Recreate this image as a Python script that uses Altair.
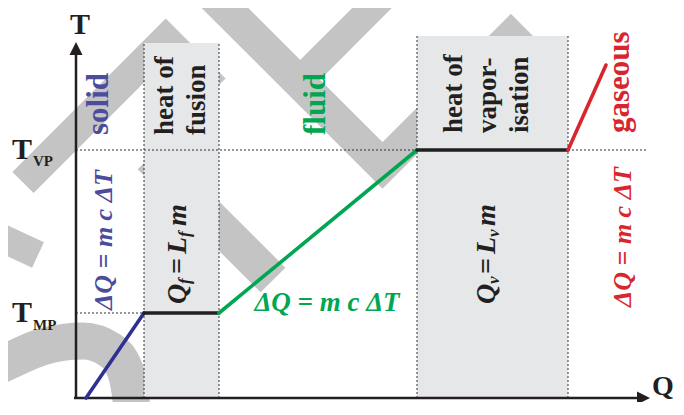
import altair as alt
import pandas as pd

# ---------------- data ----------------
# schematic heating curve: heat added Q vs temperature T (arbitrary units)
curve_phase = ["solid", "fusion", "fluid", "vaporisation", "gaseous"]
curve_Q_start = [10, 68, 143, 341, 492]
curve_Q_end = [68, 143, 341, 492, 530]
curve_T_start = [0, 85, 85, 248, 248]
curve_T_end = [85, 85, 248, 248, 333]

T_MP = 85
T_VP = 248

# latent-heat bands (shaded)
band_name = ["fusion", "vaporisation"]
band_Q_start = [68, 341]
band_Q_end = [143, 492]
band_T_top = [355, 362]

# axis extents
axis_T_tip = 356
axis_Q_tip = 574
vp_line_Q_end = 572

# background watermark strokes (centre lines in Q, T)
wm_id = ["a", "a", "a", "b", "b", "c", "c", "c", "c", "d", "d", "e", "e"]
wm_Q = [-53, 89.75, 139, 74, 197, 114, 306.5, 434.8, 479, 324, 222.5, -100, -38]
wm_T = [215.5, 358.25, 309, 241, 118, 425, 232.5, 360.8, 316.6, 418, 316.5, 172, 143]
wm_w = [30, 30, 30, 35, 35, 33, 33, 33, 33, 28, 28, 28, 28]
arc_Q = [-88, -76, -31, 7, 34, 49, 55, 57]
arc_T = [28, 33, 52, 57, 48, 28, -2, -27]

# texts
lbl_T = "T"
lbl_Q = "Q"
lbl_VP = "VP"
lbl_MP = "MP"
lbl_solid = "solid"
lbl_fluid = "fluid"
lbl_gas = "gaseous"
lbl_fusion = ["heat of", "fusion"]
lbl_vapor = ["heat of", "vapor-", "isation"]
lbl_dq = "ΔQ = m c ΔT"
lbl_lat_f = ["Q", "f", "=", "L", "f", "m"]
lbl_lat_v = ["Q", "v", "=", "L", "v", "m"]

# ---------------- styling ----------------
FONT = "Liberation Serif"
BLUE_T = "#4b4c9c"
BLUE = "#2e3192"
GREEN = "#00a651"
RED = "#d9262e"
BLACK = "#231f20"
BOX = "#e6e7e8"
WM = "#c4c4c4"
seg_color = [BLUE, BLACK, GREEN, BLACK, RED]

XS = alt.Scale(domain=[-68, 600], nice=False, zero=False)
YS = alt.Scale(domain=[-4, 390], nice=False, zero=False)


def X(f="Q"):
    return alt.X(f"{f}:Q", scale=XS, axis=None)


def Y(f="T"):
    return alt.Y(f"{f}:Q", scale=YS, axis=None)


layers = []

# watermark
wm_df = pd.DataFrame({"id": wm_id, "Q": wm_Q, "T": wm_T, "w": wm_w})
wm_df["ord"] = range(len(wm_df))
layers.append(
    alt.Chart(wm_df).mark_line(strokeCap="butt", strokeJoin="miter", color=WM, strokeMiterLimit=10).encode(
        x=X(), y=Y(), detail="id:N", order="ord:Q",
        strokeWidth=alt.StrokeWidth("w:Q", scale=None))
)
arc_df = pd.DataFrame({"Q": arc_Q, "T": arc_T})
arc_df["ord"] = range(len(arc_df))
layers.append(
    alt.Chart(arc_df).mark_line(strokeCap="butt", color=WM, strokeWidth=37, interpolate="monotone").encode(
        x=X(), y=Y(), order="ord:Q")
)

# shaded bands
band_df = pd.DataFrame({"name": band_name, "q0": band_Q_start, "q1": band_Q_end,
                        "t0": [0, 0], "t1": band_T_top})
layers.append(
    alt.Chart(band_df).mark_rect(color=BOX).encode(x=X("q0"), x2="q1", y=Y("t0"), y2="t1")
)

# dotted guides
dot_rows = []
dot_rows += [("vp", 0, T_VP), ("vp", vp_line_Q_end, T_VP)]
dot_rows += [("mp", 0, T_MP), ("mp", band_Q_start[0], T_MP)]
for i in range(2):
    dot_rows += [(f"l{i}", band_Q_start[i], 0), (f"l{i}", band_Q_start[i], band_T_top[i])]
    dot_rows += [(f"r{i}", band_Q_end[i], 0), (f"r{i}", band_Q_end[i], band_T_top[i])]
dot_df = pd.DataFrame(dot_rows, columns=["id", "Q", "T"])
dot_df["ord"] = range(len(dot_df))
layers.append(
    alt.Chart(dot_df).mark_line(strokeDash=[2, 2], strokeWidth=1, color="#333333").encode(
        x=X(), y=Y(), detail="id:N", order="ord:Q")
)

# axes
ax_df = pd.DataFrame({"id": ["y", "y", "x", "x"],
                      "Q": [0, 0, -2, axis_Q_tip - 8],
                      "T": [-1, axis_T_tip - 8, 0, 0]})
ax_df["ord"] = range(4)
layers.append(
    alt.Chart(ax_df).mark_line(strokeWidth=2.5, color=BLACK).encode(
        x=X(), y=Y(), detail="id:N", order="ord:Q")
)
up_df = pd.DataFrame({"Q": [0], "T": [axis_T_tip - 6.5]})
layers.append(
    alt.Chart(up_df).mark_point(shape="M0,-1L-1,1L1,1Z", filled=True, size=169, color=BLACK,
                                opacity=1, strokeWidth=0).encode(x=X(), y=Y())
)
rt_df = pd.DataFrame({"Q": [axis_Q_tip - 6.5], "T": [0]})
layers.append(
    alt.Chart(rt_df).mark_point(shape="M1,0L-1,-1L-1,1Z", filled=True, size=169, color=BLACK,
                                opacity=1, strokeWidth=0).encode(x=X(), y=Y())
)

# heating curve
cur_rows = []
for i, ph in enumerate(curve_phase):
    cur_rows.append((ph, 2 * i, curve_Q_start[i], curve_T_start[i], seg_color[i]))
    cur_rows.append((ph, 2 * i + 1, curve_Q_end[i], curve_T_end[i], seg_color[i]))
cur_df = pd.DataFrame(cur_rows, columns=["phase", "ord", "Q", "T", "col"])
layers.append(
    alt.Chart(cur_df).mark_line(strokeWidth=3.6, strokeCap="round").encode(
        x=X(), y=Y(), detail="phase:N", order="ord:Q",
        color=alt.Color("col:N", scale=None))
)


def txt(label, q, t, size, color, angle=0, align="left", baseline="alphabetic",
        weight="bold", style="normal", dy=0):
    df = pd.DataFrame({"Q": [q], "T": [t], "label": [label]})
    kw = dict(font=FONT, fontSize=size, fontWeight=weight, fontStyle=style, color=color,
              align=align, baseline=baseline)
    if angle:
        kw["angle"] = angle
    if dy:
        kw["dy"] = dy
    return alt.Chart(df).mark_text(**kw).encode(x=X(), y=Y(), text="label:N")


# axis labels
layers.append(txt(lbl_T, 4, 364, 30, BLACK, align="center"))
layers.append(txt(lbl_Q, 576, 3, 28, BLACK))
layers.append(txt(lbl_T, -64, 239, 30, BLACK))
layers.append(txt(lbl_VP, -43, 232, 15, BLACK))
layers.append(txt(lbl_T, -64, 76, 30, BLACK))
layers.append(txt(lbl_MP, -43, 68, 15, BLACK))

# phase labels
layers.append(txt(lbl_solid, 23, 263, 31, BLUE_T, angle=270, baseline="middle"))
layers.append(txt(lbl_fluid, 240, 263, 31, GREEN, angle=270, baseline="middle"))
layers.append(txt(lbl_gas, 544, 265, 31, RED, angle=270, baseline="middle"))
for s, q in zip(lbl_fusion, [89, 121]):
    layers.append(txt(s, q, 263, 27, BLACK, angle=270, baseline="middle"))
for s, q in zip(lbl_vapor, [378, 412, 444]):
    layers.append(txt(s, q, 265, 27, BLACK, angle=270, baseline="middle"))

# sensible-heat formulas
layers.append(txt(lbl_dq, 28, 88, 26, BLUE_T, angle=270, baseline="middle", style="italic"))
layers.append(txt(lbl_dq, 251, 87, 27, GREEN, align="center", style="italic"))
layers.append(txt(lbl_dq, 547, 91, 26, RED, angle=270, baseline="middle", style="italic"))

# latent-heat formulas (pieces along the rotated baseline)
piece_T = [94, 114, 124, 144, 161, 172]
piece_size = [28, 17, 28, 28, 17, 28]
piece_dy = [0, 7, 0, 0, 7, 0]
piece_style = ["italic", "italic", "normal", "italic", "italic", "italic"]
for labels, q in [(lbl_lat_f, 102), (lbl_lat_v, 411)]:
    for s, t, sz, d, st in zip(labels, piece_T, piece_size, piece_dy, piece_style):
        layers.append(txt(s, q, t, sz, BLACK, angle=270, baseline="middle", style=st, dy=d))

chart = alt.layer(*layers).properties(
    width=668, height=394, padding=0,
    autosize=alt.AutoSizeParams(type="none"),
).configure_view(stroke=None)

chart.save("out.html", embed_options={"renderer": "svg", "actions": False})
